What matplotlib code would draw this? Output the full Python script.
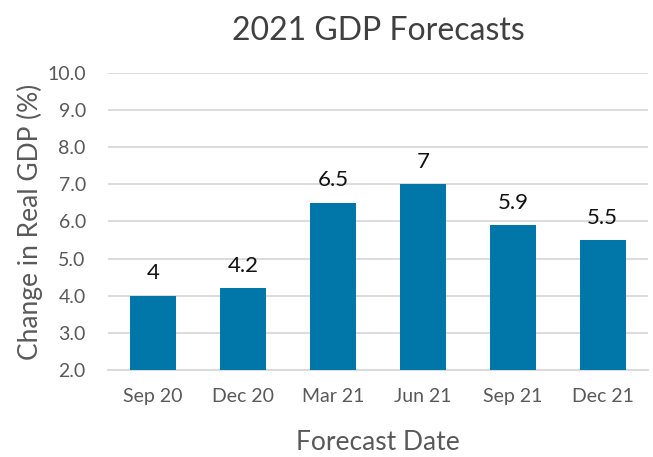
import matplotlib.pyplot as plt

plt.rcParams['font.family'] = ['Lato', 'DejaVu Sans']

dates = ['Sep 20', 'Dec 20', 'Mar 21', 'Jun 21', 'Sep 21', 'Dec 21']
gdp_forecast = [4, 4.2, 6.5, 7, 5.9, 5.5]
labels = ['4', '4.2', '6.5', '7', '5.9', '5.5']

fig = plt.figure(figsize=(6.53, 4.57), dpi=100)
ax = fig.add_axes([0.1654, 0.1904, 0.8266, 0.6499])

x = range(len(dates))
bars = ax.bar(x, [v - 2 for v in gdp_forecast], bottom=2, width=0.51,
              color='#0077A8', zorder=3)

# value labels above each bar
for bar, val, txt in zip(bars, gdp_forecast, labels):
    ax.annotate(txt, (bar.get_x() + bar.get_width() / 2, val),
                xytext=(0, 9), textcoords='offset points',
                ha='center', va='bottom', fontsize=16, color='#111111')

ax.set_xlim(-0.5, len(dates) - 0.5)
ax.set_ylim(2, 10)
ax.set_yticks([2, 3, 4, 5, 6, 7, 8, 9, 10])
ax.set_yticklabels([f'{v:.1f}' for v in range(2, 11)])
ax.set_xticks(list(x))
ax.set_xticklabels(dates)
ax.tick_params(axis='both', length=0, labelsize=14, labelcolor='#595959')
ax.tick_params(axis='x', pad=13)
ax.tick_params(axis='y', pad=16)

ax.yaxis.grid(True, color='#D9D9D9', linewidth=1.3, zorder=0)
for side in ['top', 'right', 'left']:
    ax.spines[side].set_visible(False)
ax.spines['bottom'].set_color('#D9D9D9')
ax.spines['bottom'].set_linewidth(1.3)

ax.set_title('2021 GDP Forecasts', fontsize=23, color='#404040', pad=24)
ax.set_xlabel('Forecast Date', fontsize=19, color='#595959', labelpad=18)
ax.set_ylabel('Change in Real GDP (%)', fontsize=19, color='#595959', labelpad=3)

fig.savefig('out.png', dpi=100)
